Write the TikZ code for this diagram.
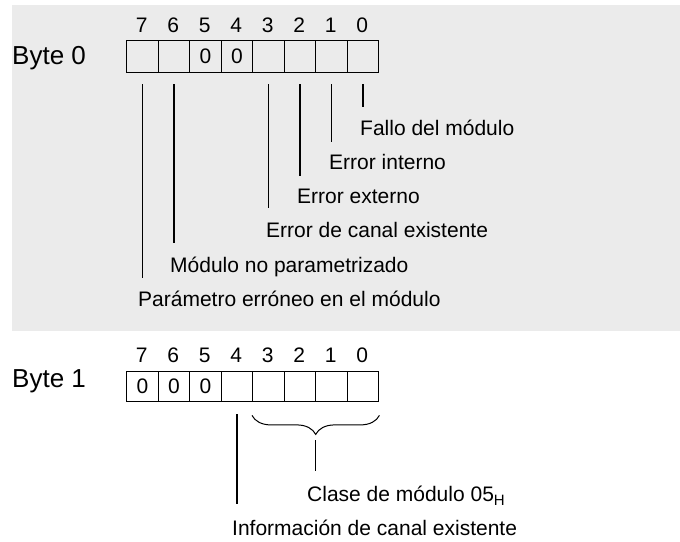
\documentclass[tikz,border=0pt]{standalone}
\usepackage{fontspec}
\setmainfont{Liberation Sans}
\usetikzlibrary{decorations.pathreplacing,calc}
\definecolor{bg}{RGB}{235,235,235}
\tikzset{
 cell/.style={draw, line width=1.4pt, minimum width=31.5pt, inner sep=0, anchor=north west, font=\fontsize{21}{25}\selectfont},
 bitno/.style={anchor=base, inner sep=0, font=\fontsize{21}{25}\selectfont},
 lbl/.style={anchor=base west, inner sep=0, font=\fontsize{21}{25}\selectfont},
 bytelbl/.style={anchor=base west, inner sep=0, font=\fontsize{26}{30}\selectfont},
 lead/.style={line width=1.4pt},
}
\begin{document}
\begin{tikzpicture}[x=1pt,y=-1pt]
\useasboundingbox (0,0) rectangle (680,541);
\fill[bg] (12,5) rectangle (680,331);
% Byte 0
\node[bytelbl] (byte0) at (12,64) {Byte 0};
\foreach \b/\t in {7/,6/,5/0,4/0,3/,2/,1/,0/}{
  \node[cell, minimum height=32pt] (a\b) at ({126+31.5*(7-\b)},40) {\t};
  \node[bitno] (na\b) at ({126+31.5*(7.5-\b)},32) {\b};
}
\node[lbl] (l0) at (360,135) {Fallo del módulo};
\node[lbl] (l1) at (329,169) {Error interno};
\node[lbl] (l2) at (297,203) {Error externo};
\node[lbl] (l3) at (266,237) {Error de canal existente};
\node[lbl] (l6) at (170,272) {Módulo no parametrizado};
\node[lbl] (l7) at (138,306) {Parámetro erróneo en el módulo};
\draw[lead] ($(a0.south)+(0,11)$) -- ++(0,23);
\draw[lead] ($(a1.south)+(0,11)$) -- ++(0,58);
\draw[lead] ($(a2.south)+(0,11)$) -- ++(0,92);
\draw[lead] ($(a3.south)+(0,11)$) -- ++(0,124);
\draw[lead] ($(a6.south)+(0,11)$) -- ++(0,159);
\draw[lead] ($(a7.south)+(0,11)$) -- ++(0,194);
% Byte 1
\node[bytelbl] (byte1) at (12,387) {Byte 1};
\foreach \b/\t in {7/0,6/0,5/0,4/,3/,2/,1/,0/}{
  \node[cell, minimum height=30pt] (c\b) at ({126+31.5*(7-\b)},371) {\t};
  \node[bitno] (nc\b) at ({126+31.5*(7.5-\b)},362) {\b};
}
\draw[lead] ($(c4.south)+(0,12)$) -- ++(0,90);
\coordinate (brl) at ($(c3.south west)+(0,13)$);
\coordinate (brr) at ($(c0.south east)+(0,13)$);
\draw[line width=1pt, decorate, decoration={brace, mirror, amplitude=19pt}] (brl) -- (brr);
\coordinate (brt) at ($(brl)!0.5!(brr)$);
\draw[lead] ($(brt)+(0,25)$) -- ++(0,31);
\node[lbl] (lc) at (307,501) {Clase de módulo 05\raisebox{-4pt}{\fontsize{15}{15}\selectfont H}};
\node[lbl] (li) at (232,535) {Información de canal existente};
\end{tikzpicture}
\end{document}
